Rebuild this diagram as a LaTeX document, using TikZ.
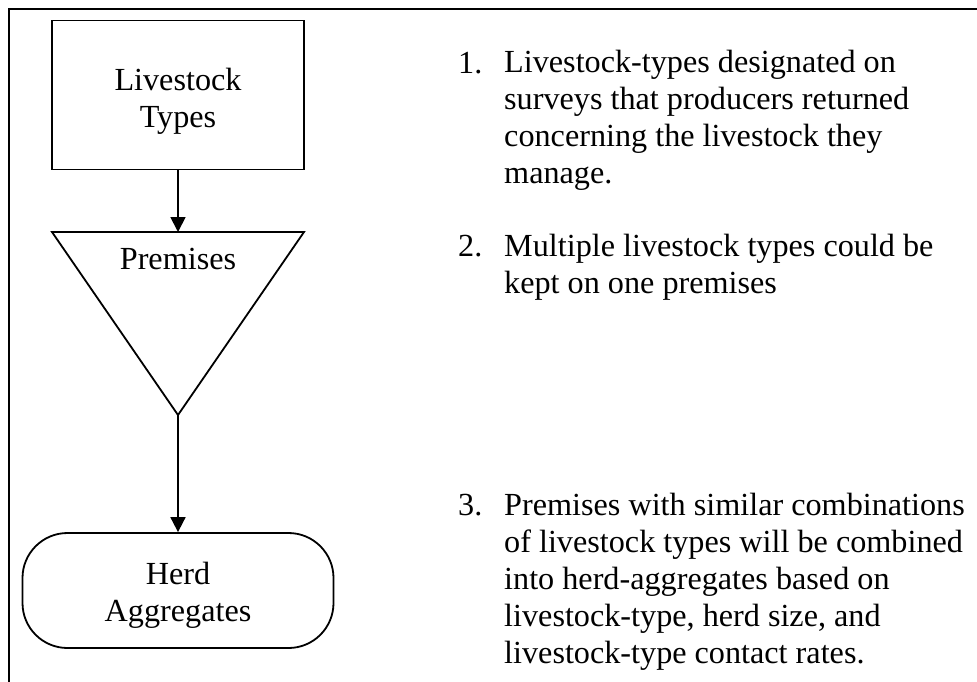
\documentclass[tikz,border=0pt]{standalone}
\usepackage{fontspec}
\setmainfont{Liberation Serif}
\usetikzlibrary{arrows.meta}
\begin{document}
\begin{tikzpicture}[x=1pt,y=-1pt,
  line/.style={line width=1.8pt},
  conn/.style={line width=1.8pt,-{Triangle[length=15pt,width=15pt]}},
  lbl/.style={font=\fontsize{32.2}{37}\selectfont,inner sep=0pt,align=center,anchor=base},
  item/.style={font=\fontsize{32.2}{37}\selectfont,inner sep=0pt,align=left,anchor=base west}]
\useasboundingbox (0,0) rectangle (977,681);
% outer frame (continues past right and bottom edges)
\draw[line] (9,690) -- (9,9) -- (990,9);
% Livestock types box
\node[draw,line,rectangle,minimum width=252pt,minimum height=149pt,inner sep=0pt] (types) at (178,95) {};
\node[lbl] (typestxt) at (178,127) {Livestock\\Types};
% Premises triangle
\coordinate (triL) at (52,232);
\coordinate (triR) at (304,232);
\coordinate (triTop) at (178,232);
\coordinate (triApex) at (178,415);
\draw[line,line join=miter] (triL) -- (triR) -- (triApex) -- cycle;
\node[lbl] (premtxt) at (178,269) {Premises};
% Herd aggregates terminal
\node[draw,line,rectangle,rounded corners=45pt,minimum width=311pt,minimum height=115pt,inner sep=0pt] (herd) at (178,590.5) {};
\node[lbl] (herdtxt) at (178,621) {Herd\\Aggregates};
% connectors
\draw[conn] (types.south) -- (triTop);
\draw[conn] (triApex) -- (herd.north);
% list (nodes anchored at the baseline of their last line)
\node[item] (n1) at (458,73) {1.};
\node[item] (t1) at (504,183) {Livestock-types designated on\\surveys that producers returned\\concerning the livestock they\\manage.};
\node[item] (n2) at (458,256) {2.};
\node[item] (t2) at (504,293) {Multiple livestock types could be\\kept on one premises};
\node[item] (n3) at (458,515) {3.};
\node[item] (t3) at (504,663) {Premises with similar combinations\\of livestock types will be combined\\into herd-aggregates based on\\livestock-type, herd size, and\\livestock-type contact rates.};
\end{tikzpicture}
\end{document}
